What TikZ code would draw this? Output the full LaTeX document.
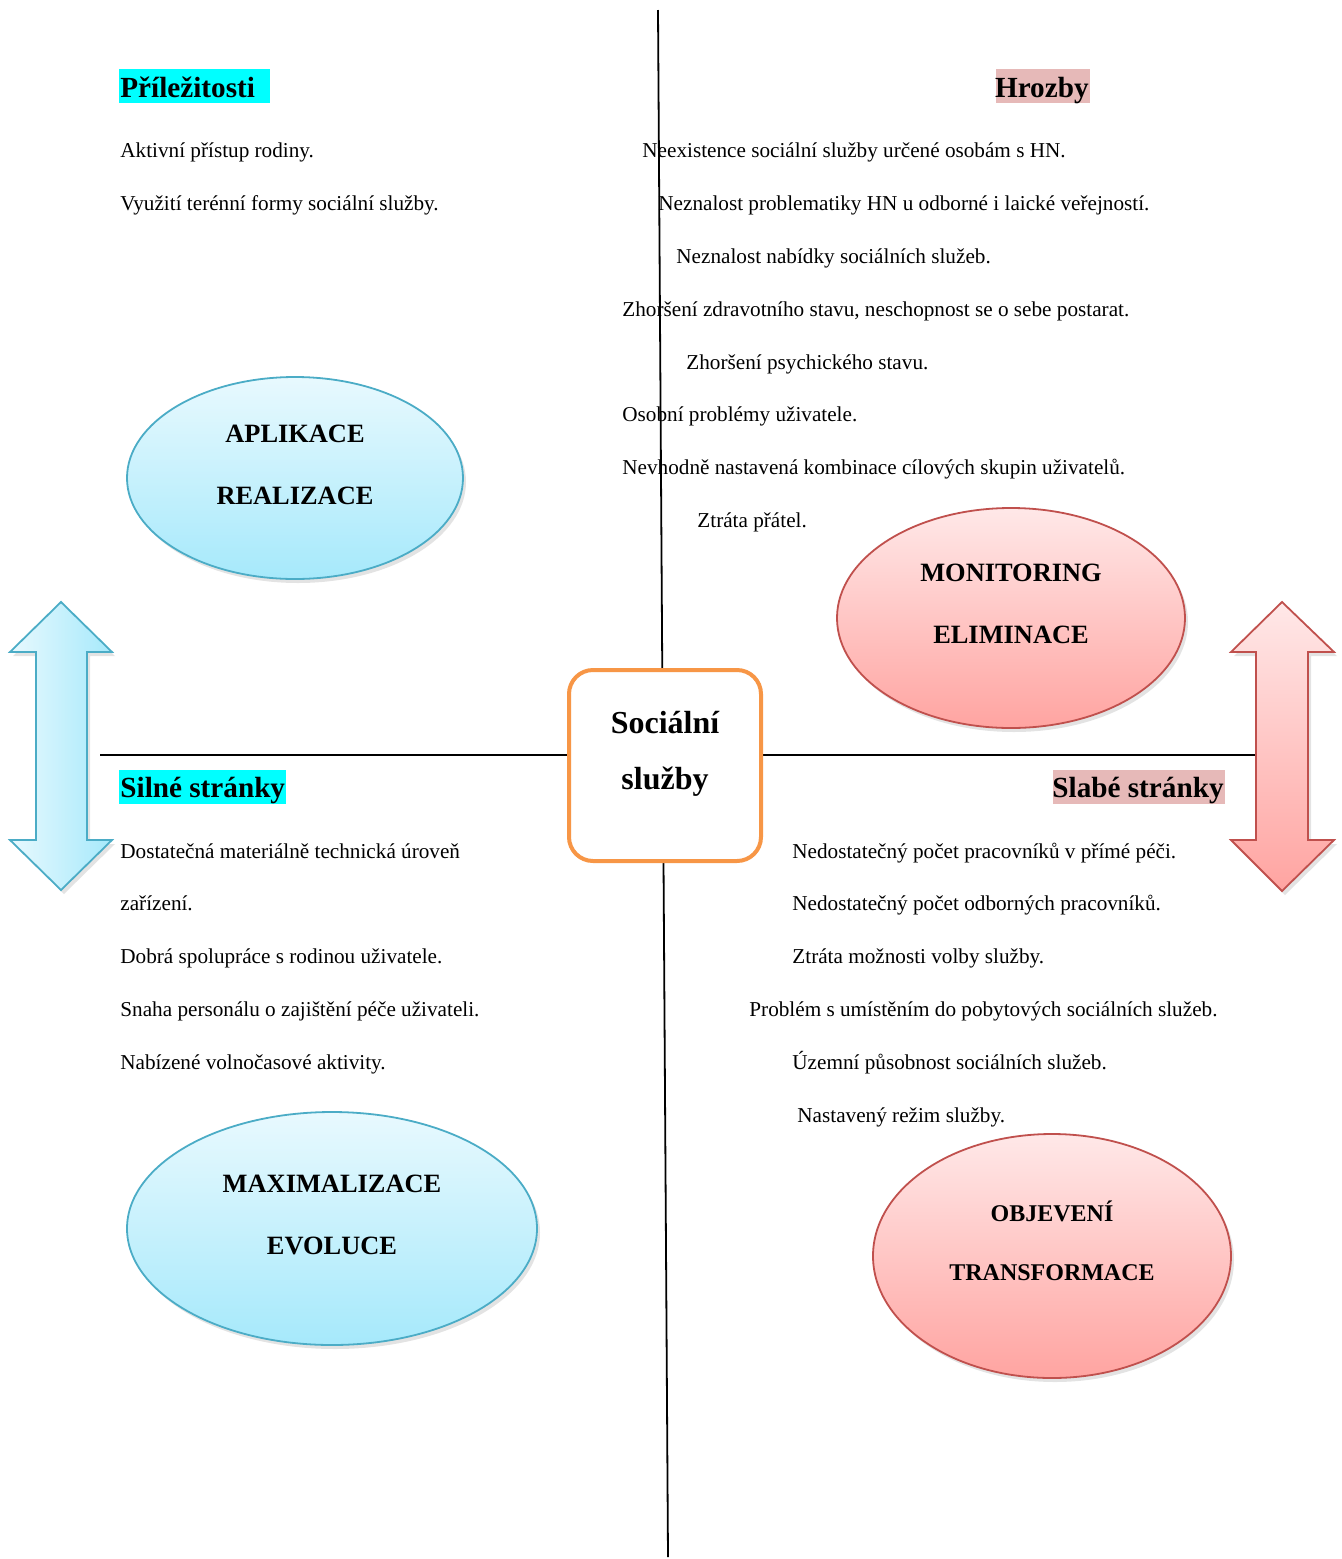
\documentclass[tikz,border=0pt]{standalone}
\usepackage{fontspec}
\setmainfont{Liberation Serif}
\usetikzlibrary{shapes.geometric,shadows}
\definecolor{bluebd}{HTML}{4BACC6}
\definecolor{bluetop}{HTML}{E8F9FE}
\definecolor{bluebot}{HTML}{A6E9FB}
\definecolor{redbd}{HTML}{C0504D}
\definecolor{redtop}{HTML}{FFE8E8}
\definecolor{redbot}{HTML}{FFA4A1}
\definecolor{orangebd}{HTML}{F79646}
\definecolor{pinkhl}{HTML}{E6B9B8}
\definecolor{cyanhl}{HTML}{00FFFF}
\tikzset{
  body/.style={anchor=base west, inner sep=0pt, font=\fontsize{10.6}{12}\selectfont},
  head/.style={inner sep=0pt, font=\fontsize{14.6}{16}\selectfont\bfseries},
  ovaltext/.style={anchor=base, inner sep=0pt, font=\fontsize{13.2}{15}\selectfont\bfseries},
  smallovaltext/.style={anchor=base, inner sep=0pt, font=\fontsize{12}{14}\selectfont\bfseries},
  shade/.style={drop shadow={opacity=0.22, shadow xshift=1.5pt, shadow yshift=-2pt}},
  blueoval/.style={ellipse, draw=bluebd, line width=0.9pt, top color=bluetop, bottom color=bluebot, shade, inner sep=0pt},
  redoval/.style={ellipse, draw=redbd, line width=0.9pt, top color=redtop, bottom color=redbot, shade, inner sep=0pt},
  axis/.style={line width=0.9pt, black}
}
\begin{document}
\begin{tikzpicture}[x=0.5pt,y=-0.5pt]
\useasboundingbox (0,0) rectangle (1341,1559);
% axes
\coordinate (vtop) at (658,10);
\coordinate (vbot) at (668,1557);
\coordinate (hleft) at (100,755);
\coordinate (hright) at (1256,755);
\draw[axis] (vtop) -- (vbot);
\draw[axis] (hleft) -- (hright);
% heading highlights
\fill[cyanhl] (119,69) rectangle (270,103);
\fill[pinkhl] (996,69) rectangle (1090,103);
\fill[cyanhl] (119,770) rectangle (286,804);
\fill[pinkhl] (1053,770) rectangle (1225,804);
\node[head, anchor=base west] (hP) at (120,97) {Příležitosti};
\node[head, anchor=base east] (hH) at (1089,97) {Hrozby};
\node[head, anchor=base west] (hS) at (120,797) {Silné stránky};
\node[head, anchor=base east] (hW) at (1224,797) {Slabé stránky};
% opportunities
\node[body] (o1) at (120,157) {Aktivní přístup rodiny.};
\node[body] (o2) at (120,210) {Využití terénní formy sociální služby.};
% threats
\node[body] (t1) at (642,157) {Neexistence sociální služby určené osobám s HN.};
\node[body] (t2) at (658,210) {Neznalost problematiky HN u odborné i laické veřejností.};
\node[body] (t3) at (676,263) {Neznalost nabídky sociálních služeb.};
\node[body] (t4) at (622,316) {Zhoršení zdravotního stavu, neschopnost se o sebe postarat.};
\node[body] (t5) at (686,369) {Zhoršení psychického stavu.};
\node[body] (t6) at (622,421) {Osobní problémy uživatele.};
\node[body] (t7) at (622,474) {Nevhodně nastavená kombinace cílových skupin uživatelů.};
\node[body] (t8) at (697,527) {Ztráta přátel.};
% strengths
\node[body] (s1) at (120,858) {Dostatečná materiálně technická úroveň};
\node[body] (s2) at (120,910) {zařízení.};
\node[body] (s3) at (120,963) {Dobrá spolupráce s rodinou uživatele.};
\node[body] (s4) at (120,1016) {Snaha personálu o zajištění péče uživateli.};
\node[body] (s5) at (120,1069) {Nabízené volnočasové aktivity.};
% weaknesses
\node[body] (w1) at (792,858) {Nedostatečný počet pracovníků v přímé péči.};
\node[body] (w2) at (792,910) {Nedostatečný počet odborných pracovníků.};
\node[body] (w3) at (792,963) {Ztráta možnosti volby služby.};
\node[body] (w4) at (749,1016) {Problém s umístěním do pobytových sociálních služeb.};
\node[body] (w5) at (792,1069) {Územní působnost sociálních služeb.};
\node[body] (w6) at (797,1122) {Nastavený režim služby.};
% ovals
\node[blueoval, minimum width=168pt, minimum height=101pt] (e1) at (295,478) {};
\node[ovaltext] (e1a) at (295,442) {APLIKACE};
\node[ovaltext] (e1b) at (295,504) {REALIZACE};
\node[redoval, minimum width=174pt, minimum height=110pt] (e2) at (1011,618) {};
\node[ovaltext] (e2a) at (1011,581) {MONITORING};
\node[ovaltext] (e2b) at (1011,643) {ELIMINACE};
\node[blueoval, minimum width=205pt, minimum height=116.5pt] (e3) at (332,1228.5) {};
\node[ovaltext] (e3a) at (332,1192) {MAXIMALIZACE};
\node[ovaltext] (e3b) at (332,1254) {EVOLUCE};
\node[redoval, minimum width=179pt, minimum height=122pt] (e4) at (1052,1256) {};
\node[smallovaltext] (e4a) at (1052,1221) {OBJEVENÍ};
\node[smallovaltext] (e4b) at (1052,1280) {TRANSFORMACE};
% double arrows
\path[draw=bluebd, line width=0.9pt, left color=bluetop, right color=bluebot, shade]
  (61,602) -- (112,652) -- (87,652) -- (87,840) -- (112,840) -- (61,890)
  -- (10,840) -- (36,840) -- (36,652) -- (10,652) -- cycle;
\path[draw=redbd, line width=0.9pt, top color=redtop, bottom color=redbot, shade]
  (1282,602) -- (1334,652) -- (1308,652) -- (1308,840) -- (1334,840) -- (1282,891)
  -- (1231,840) -- (1256,840) -- (1256,652) -- (1231,652) -- cycle;
% centre box
\node[draw=orangebd, line width=2pt, fill=white, rounded corners=12pt,
      minimum width=96pt, minimum height=95.5pt, inner sep=0pt] (box) at (665,765.5) {};
\node[anchor=base, inner sep=0pt, font=\fontsize{16}{18}\selectfont\bfseries] (c1) at (665,733) {Sociální};
\node[anchor=base, inner sep=0pt, font=\fontsize{16}{18}\selectfont\bfseries] (c2) at (665,789) {služby};
\end{tikzpicture}
\end{document}
